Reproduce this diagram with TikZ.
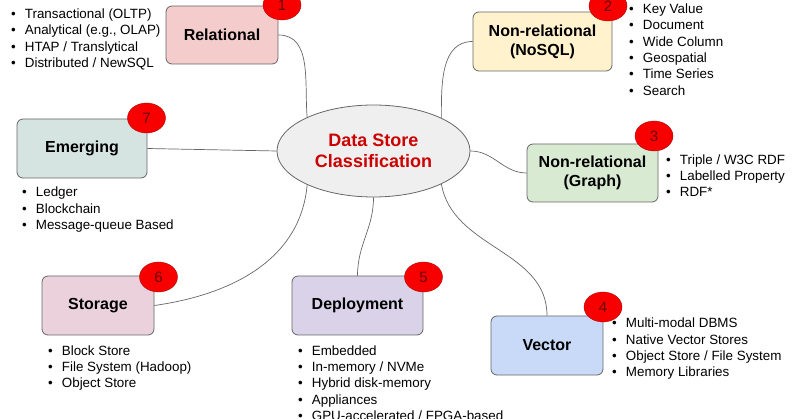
\documentclass[tikz,border=0pt]{standalone}
\usepackage{fontspec}
\setmainfont{Liberation Sans}
\usetikzlibrary{shapes}
\definecolor{edgeGray}{HTML}{666666}
\definecolor{hubFill}{HTML}{EFEFEF}
\definecolor{titleRed}{HTML}{CC0000}
\definecolor{badgeRed}{HTML}{F80000}
\definecolor{badgeEdge}{HTML}{B00000}
\definecolor{badgeText}{HTML}{6A0000}
\definecolor{relFill}{HTML}{F4CCCC}
\definecolor{nosqlFill}{HTML}{FFF2CC}
\definecolor{graphFill}{HTML}{D9EAD3}
\definecolor{vectorFill}{HTML}{C9DAF8}
\definecolor{deployFill}{HTML}{D9D2E9}
\definecolor{storageFill}{HTML}{EAD1DC}
\definecolor{emergFill}{HTML}{D6E4E1}
\tikzstyle{block} = [draw=edgeGray, rectangle, rounded corners=6pt, line width=0.8pt, align=center, font=\fontsize{16}{19}\selectfont\bfseries]
\tikzstyle{hub} = [draw=edgeGray, ellipse, fill=hubFill, line width=0.8pt, minimum width=193pt, minimum height=92pt, inner sep=0, align=center, text=titleRed, font=\fontsize{18}{21.5}\selectfont\bfseries]
\tikzstyle{badge} = [draw=badgeEdge, fill=badgeRed, ellipse, minimum width=38pt, minimum height=30pt, inner sep=0, text=badgeText, font=\fontsize{15}{15}\selectfont]
\tikzstyle{items} = [anchor=north west, inner sep=0, align=left, font=\fontsize{13.4}{16.3}\selectfont]
\tikzstyle{wire} = [draw=edgeGray, line width=0.7pt]
\newcommand{\itm}[1]{\textbullet\hspace{9pt}#1}

\begin{document}
\begin{tikzpicture}[x=1pt, y=-1pt]
        \useasboundingbox (0,0) rectangle (800,419);
        \node [hub] (hub) at (373.5,151) {Data Store\\Classification};
        \node [block, fill=relFill, minimum width=112pt, minimum height=58pt] (relational) at (222,35) {Relational};
        \node [block, fill=nosqlFill, minimum width=139pt, minimum height=59pt] (nosql) at (542.5,41.5) {Non-relational\\(NoSQL)};
        \node [block, fill=graphFill, minimum width=131pt, minimum height=58pt] (graph) at (592.5,173) {Non-relational\\(Graph)};
        \node [block, fill=vectorFill, minimum width=112pt, minimum height=59pt] (vector) at (547,345.5) {Vector};
        \node [block, fill=deployFill, minimum width=131pt, minimum height=59pt] (deployment) at (357.5,305.5) {Deployment};
        \node [block, fill=storageFill, minimum width=112pt, minimum height=59pt] (storage) at (98,305.5) {Storage};
        \node [block, fill=emergFill, minimum width=130pt, minimum height=59pt] (emerging) at (82,148.5) {Emerging};

        \node [badge] (badgeRel) at (282,5) {1};
        \node [badge] (badgeNosql) at (608,6) {2};
        \node [badge] (badgeGraph) at (654,136) {3};
        \node [badge] (badgeVector) at (603,307) {4};
        \node [badge] (badgeDeploy) at (423.5,277) {5};
        \node [badge] (badgeStorage) at (158.5,277) {6};
        \node [badge] (badgeEmerg) at (146.5,118) {7};

        \node [items] (relList) at (11,8.6) {\itm{Transactional (OLTP)}\\\itm{Analytical (e.g., OLAP)}\\\itm{HTAP / Translytical}\\\itm{Distributed / NewSQL}};
        \node [items] (nosqlList) at (629,3.6) {\itm{Key Value}\\\itm{Document}\\\itm{Wide Column}\\\itm{Geospatial}\\\itm{Time Series}\\\itm{Search}};
        \node [items] (graphList) at (666,154.3) {\itm{Triple / W3C RDF}\\\itm{Labelled Property}\\\itm{RDF*}};
        \node [items] (vectorList) at (612,318) {\itm{Multi-modal DBMS}\\\itm{Native Vector Stores}\\\itm{Object Store / File System}\\\itm{Memory Libraries}};
        \node [items] (deployList) at (298,345.3) {\itm{Embedded}\\\itm{In-memory / NVMe}\\\itm{Hybrid disk-memory}\\\itm{Appliances}\\\itm{GPU-accelerated / FPGA-based}};
        \node [items] (storageList) at (48,345.3) {\itm{Block Store}\\\itm{File System (Hadoop)}\\\itm{Object Store}};
        \node [items] (emergList) at (22,187) {\itm{Ledger}\\\itm{Blockchain}\\\itm{Message-queue Based}};

        \draw [wire] (relational.east) to[out=0, in=95] (hub.153);
        \draw [wire] (nosql.west) to[out=180, in=90] (hub.26);
        \draw [wire] (hub.east) to[out=0, in=180] (graph.west);
        \draw [wire] (emerging.east) -- (hub.west);
        \draw [wire] (storage.east) to[out=8, in=-95] (hub.207);
        \draw [wire] (deployment.north) to[out=90, in=-90] (hub.south);
        \draw [wire] (vector.north) to[out=90, in=-80] (hub.-26);
    \end{tikzpicture}
\end{document}
